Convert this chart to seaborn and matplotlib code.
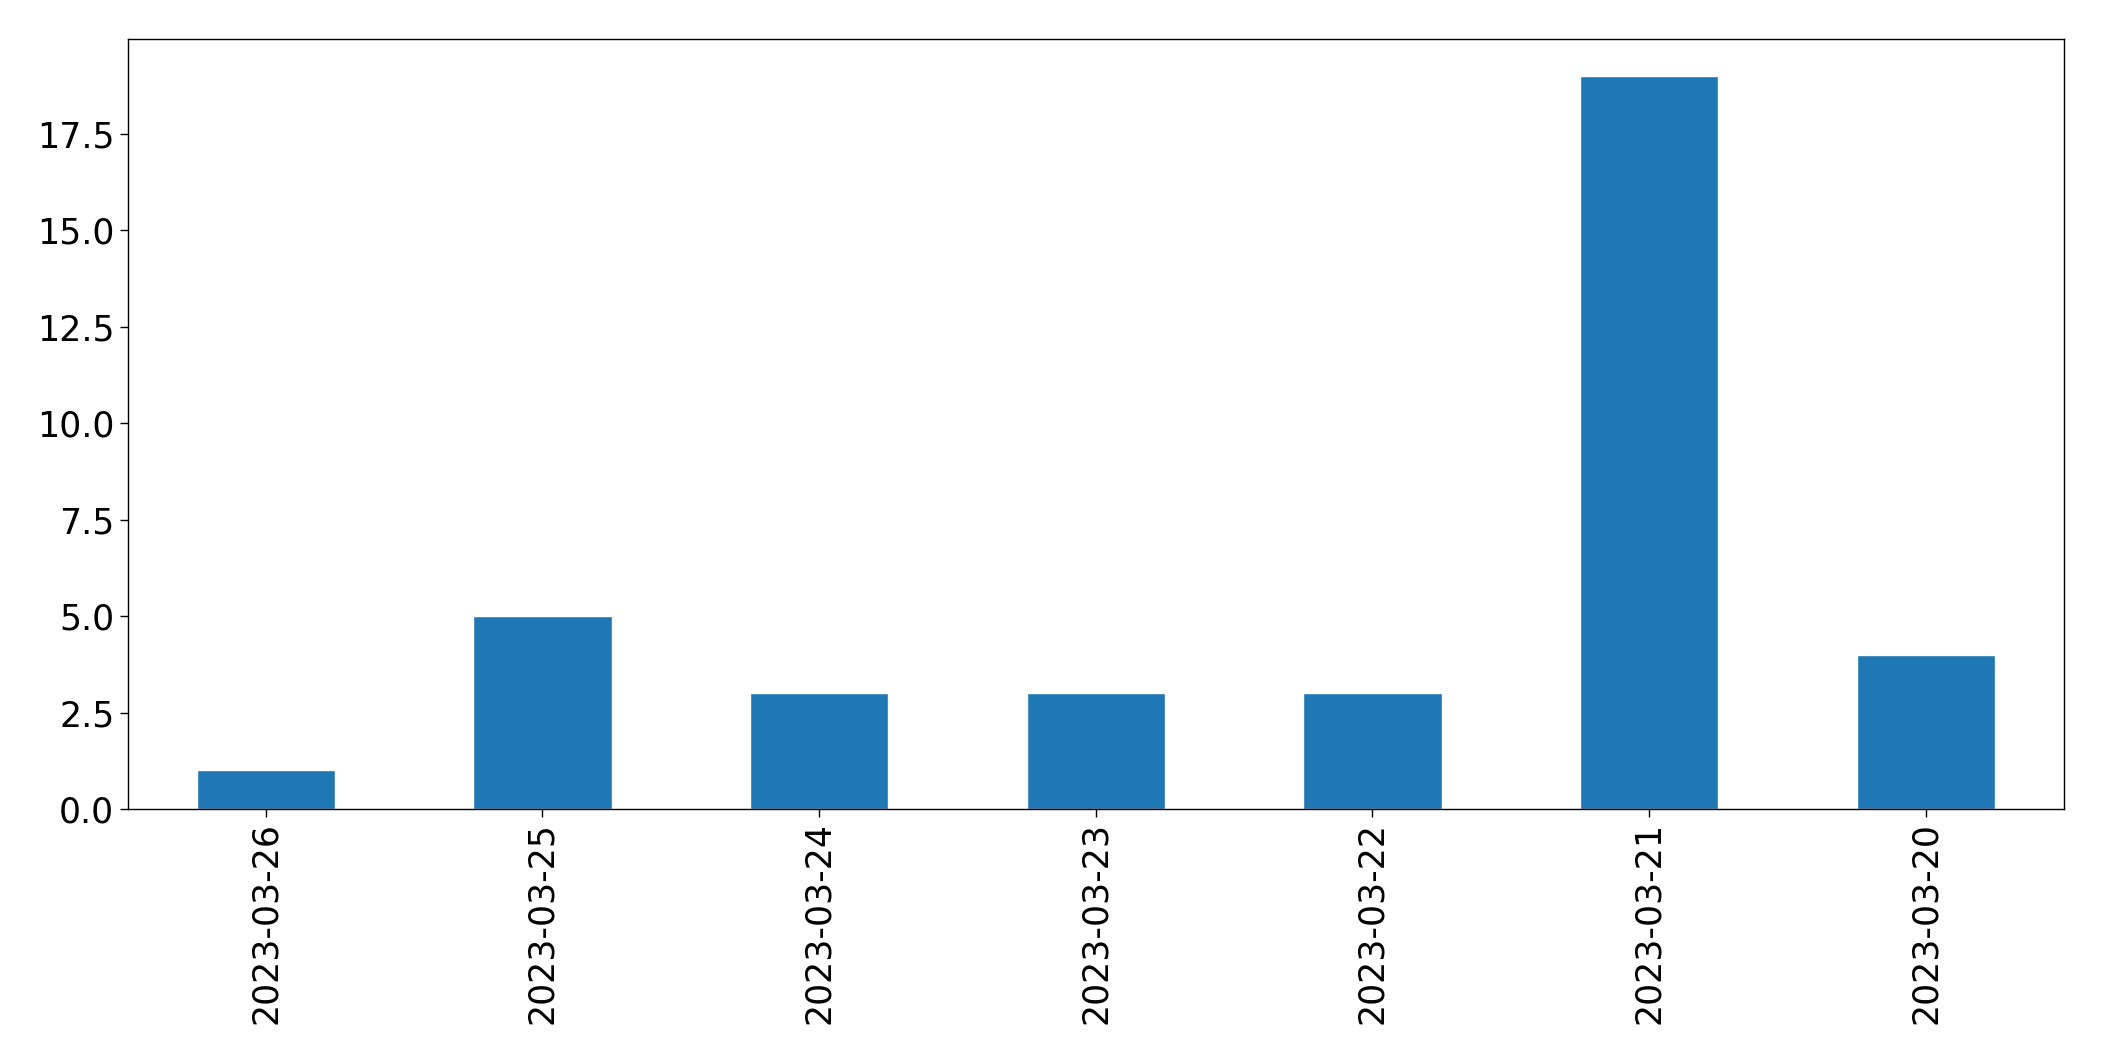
import matplotlib
matplotlib.use("Agg")
import matplotlib.pyplot as plt
import seaborn as sns
import pandas as pd

dates = ["2023-03-26", "2023-03-25", "2023-03-24", "2023-03-23", "2023-03-22", "2023-03-21", "2023-03-20"]
counts = [1, 5, 3, 3, 3, 19, 4]

sns.set_style("ticks")
plt.rcParams['font.family'] = ['DejaVu Sans']

df = pd.DataFrame({"date": dates, "count": counts})
fig, ax = plt.subplots(figsize=(21.04, 10.61), dpi=100)
sns.barplot(data=df, x="date", y="count", color="#1f77b4", saturation=1, width=0.5, ax=ax)
ax.set_xlabel("")
ax.set_ylabel("")
ax.tick_params(axis="both", labelsize=25, colors="black", length=6, width=1)
plt.setp(ax.get_xticklabels(), rotation=90)
ax.set_xlim(-0.5, 6.5)
ax.set_ylim(0, 19.95)
for s in ax.spines.values():
    s.set_visible(True)
    s.set_linewidth(1)
    s.set_color("black")
fig.subplots_adjust(left=0.0606, right=0.981, top=0.963, bottom=0.2375)
fig.savefig("out.png", dpi=100)
